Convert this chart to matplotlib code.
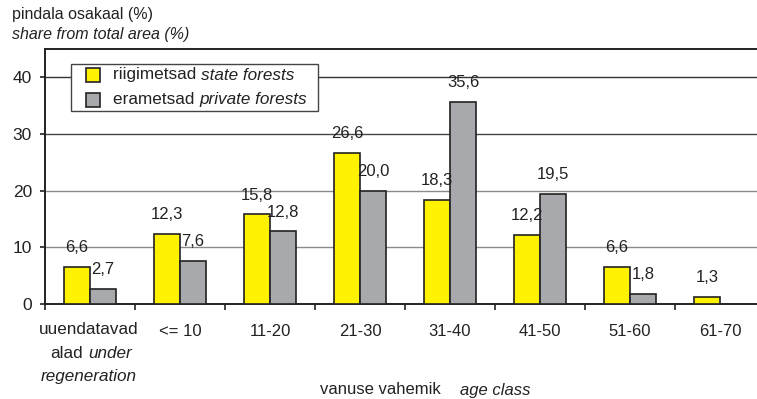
import matplotlib
matplotlib.use("Agg")
import matplotlib.pyplot as plt
import numpy as np
from matplotlib.patches import Rectangle

plt.rcParams['font.family'] = ['Liberation Sans', 'DejaVu Sans']

categories = ["", "<= 10", "11-20", "21-30", "31-40", "41-50", "51-60", "61-70"]
state = [6.6, 12.3, 15.8, 26.6, 18.3, 12.2, 6.6, 1.3]
private = [2.7, 7.6, 12.8, 20.0, 35.6, 19.5, 1.8, None]
yticks = [0, 10, 20, 30, 40]

W, H = 757, 399
fig = plt.figure(figsize=(W / 100, H / 100), dpi=100)
ax = fig.add_axes([45 / W, 1 - 304 / H, 720 / W, (304 - 49) / H])

x = np.arange(len(categories))
bw = 26 / 90
yellow = "#FFF200"
grey = "#A7A9AC"
ink = "#222222"

def draw(vals, off, col):
    for i, v in enumerate(vals):
        if v is None:
            continue
        ax.bar(x[i] + off, v, bw, color=col, edgecolor=ink, linewidth=1.2, zorder=3)
        ax.annotate(f"{v:.1f}".replace(".", ","), (x[i] + off, v), xytext=(0, 8.5),
                    textcoords="offset points", ha="center", va="bottom",
                    fontsize=12, color=ink, zorder=4)

draw(state, -bw / 2, yellow)
draw(private, bw / 2, grey)

ax.set_xlim(-0.5, 7.5)
ax.set_ylim(0, 45)
ax.set_yticks(yticks)
ax.set_yticklabels([str(t) for t in yticks], fontsize=12.5, color=ink)
ax.set_xticks(np.arange(-0.5, 8.0, 1.0))
ax.set_xticklabels([])
ax.tick_params(axis="x", direction="out", length=4.3, width=1.2, color=ink)
ax.tick_params(axis="y", direction="out", length=3.6, width=1.2, color=ink, pad=5.8)
for t in range(1, len(categories)):
    ax.text(x[t], -3.6, categories[t], ha="center", va="top", fontsize=12, color=ink)

ax.axhline(10, color="#8a8a8a", linewidth=1.0, zorder=1)
ax.axhline(20, color="#8a8a8a", linewidth=1.0, zorder=1)
ax.axhline(30, color="#444444", linewidth=1.0, zorder=1)
ax.axhline(40, color="#333333", linewidth=1.0, zorder=1)

ax.spines["right"].set_visible(False)
for s in ["left", "bottom", "top"]:
    ax.spines[s].set_linewidth(1.4)
    ax.spines[s].set_color(ink)

# first category label (mixed styles)
fig.text(89 / W, 1 - 330 / H, "uuendatavad", ha="center", va="center", fontsize=12.3, color=ink)
fig.text(67 / W, 1 - 353 / H, "alad", ha="center", va="center", fontsize=12.3, color=ink)
fig.text(110 / W, 1 - 353 / H, "under", ha="center", va="center", fontsize=12.3, style="italic", color=ink)
fig.text(89 / W, 1 - 376 / H, "regeneration", ha="center", va="center", fontsize=12.3, style="italic", color=ink)

# x axis title
fig.text(320 / W, 1 - 390 / H, "vanuse vahemik", ha="left", va="center", fontsize=12, color=ink)
fig.text(460 / W, 1 - 390 / H, "age class", ha="left", va="center", fontsize=12, style="italic", color=ink)

# y axis title
fig.text(12 / W, 1 - 15 / H, "pindala osakaal (%)", ha="left", va="center", fontsize=11.5, color=ink)
fig.text(12 / W, 1 - 34 / H, "share from total area (%)", ha="left", va="center", fontsize=11.5, style="italic", color=ink)

# legend
lx0, ly0, lx1, ly1 = 71, 64, 318, 111
fig.patches.append(Rectangle((lx0 / W, 1 - ly1 / H), (lx1 - lx0) / W, (ly1 - ly0) / H,
                             transform=fig.transFigure, facecolor="white", edgecolor="#444444",
                             linewidth=1.0, zorder=5))
for j, (col, a, b) in enumerate([(yellow, "riigimetsad", "state forests"),
                                 (grey, "erametsad", "private forests")]):
    cy = 75 + j * 24.5
    fig.patches.append(Rectangle((86 / W, 1 - (cy + 7) / H), 14 / W, 14 / H,
                                 transform=fig.transFigure, facecolor=col, edgecolor=ink,
                                 linewidth=1.2, zorder=6))
    t = fig.text(113 / W, 1 - cy / H, a + " ", ha="left", va="center", fontsize=12.3, color=ink, zorder=7)
    fig.canvas.draw()
    bb = t.get_window_extent()
    fig.text(bb.x1 / W, 1 - cy / H, b, ha="left", va="center", fontsize=12.3, style="italic",
             color=ink, zorder=7)

fig.savefig("out.png", dpi=100)
